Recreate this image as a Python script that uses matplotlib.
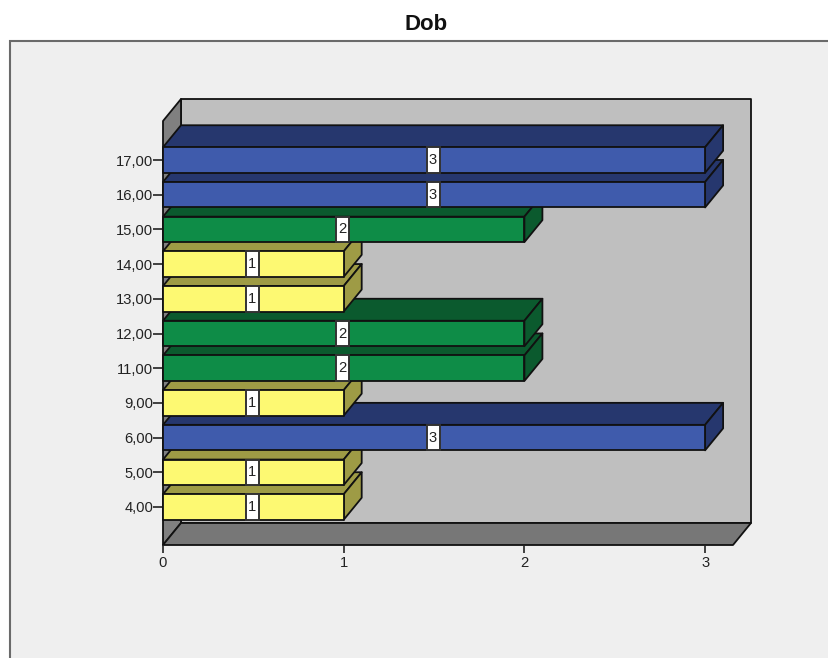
import matplotlib
matplotlib.use("Agg")
import matplotlib.pyplot as plt
from matplotlib.patches import Polygon, Rectangle

plt.rcParams['font.family'] = ['Liberation Sans', 'DejaVu Sans']

categories = ['4,00', '5,00', '6,00', '9,00', '11,00', '12,00', '13,00', '14,00', '15,00', '16,00', '17,00']
counts = [1, 1, 3, 1, 2, 2, 1, 1, 2, 3, 3]
x_ticks = [0, 1, 2, 3]

front_colors = {1: '#fdf972', 2: '#0e8c47', 3: '#3f5bac'}
dark_colors = {1: '#9e9b45', 2: '#0b5a2e', 3: '#26376e'}

W, H = 829, 658
# depth of the fake 3d, in data units
DX = 18.0 / 180.7
DY = 22.0 / 34.7
BAR_H = 25.5 / 34.7
EDGE = '#111111'


def poly(ax, pts, color, zorder, lw=1.3):
    ax.add_patch(Polygon(pts, closed=True, facecolor=color, edgecolor=EDGE,
                         linewidth=lw, clip_on=False, zorder=zorder, joinstyle='round'))


def draw_bar(ax, y, value, zorder):
    y0 = y - BAR_H / 2
    y1 = y + BAR_H / 2
    poly(ax, [(0, y1), (DX, y1 + DY), (value + DX, y1 + DY), (value, y1)], dark_colors[value], zorder)
    poly(ax, [(value, y0), (value + DX, y0 + DY), (value + DX, y1 + DY), (value, y1)], dark_colors[value], zorder)
    poly(ax, [(0, y0), (value, y0), (value, y1), (0, y1)], front_colors[value], zorder)
    # value label box in the middle of the bar
    box_w = 13.0 / 180.7
    mid = value / 2 - 1.0 / 180.7
    ax.add_patch(Rectangle((mid - box_w / 2, y0), box_w, BAR_H, facecolor='white',
                           edgecolor='#333333', linewidth=1.4, zorder=zorder + 0.1))
    ax.text(mid, y, str(value), ha='center', va='center', fontsize=10.6,
            color='#222222', zorder=zorder + 0.2)


fig = plt.figure(figsize=(W / 100, H / 100), dpi=100, facecolor='white')

# outer panel, runs off the right and the bottom of the picture
fig.add_artist(Rectangle((10.5 / W, -0.02), 1.0, (H - 41.5) / H + 0.02, transform=fig.transFigure,
                         facecolor='#efefef', edgecolor='#6a6a6a', linewidth=1.5, zorder=-1))
fig.text(426 / W, 1 - 24.5 / H, 'Dob', ha='center', va='center', fontsize=16, fontweight='bold', color='#111111')

# axes box is the front plane of the 3d chart
ax = fig.add_axes([163 / W, (H - 545) / H, (733 - 163) / W, (545 - 121) / H])
ax.patch.set_visible(False)
x_scale = 180.7
y_scale = 34.7
ax.set_xlim(0, (733 - 163) / x_scale)
ax.set_ylim(-(545 - 507) / y_scale, (507 - 121) / y_scale)
for s in ax.spines.values():
    s.set_visible(False)

xr = ax.get_xlim()[1]
yb, yt = ax.get_ylim()

# back wall, left wall, floor
poly(ax, [(DX, yb + DY), (xr + DX, yb + DY), (xr + DX, yt + DY), (DX, yt + DY)], '#bfbfbf', 1)
poly(ax, [(0, yb), (DX, yb + DY), (DX, yt + DY), (0, yt)], '#808080', 1)
poly(ax, [(0, yb), (xr, yb), (xr + DX, yb + DY), (DX, yb + DY)], '#777777', 1)

for i in range(len(categories)):
    draw_bar(ax, i, counts[i], 2 + i)

ax.set_yticks(range(len(categories)))
ax.set_yticklabels(categories)
ax.set_xticks(x_ticks)
ax.tick_params(axis='y', length=7, width=1.2, color='#222222', labelsize=10.6, labelcolor='#222222', pad=0)
ax.tick_params(axis='x', length=6, width=1.2, color='#222222', labelsize=10.6, labelcolor='#222222', pad=2)

fig.savefig('out.png', dpi=100, facecolor='white')
